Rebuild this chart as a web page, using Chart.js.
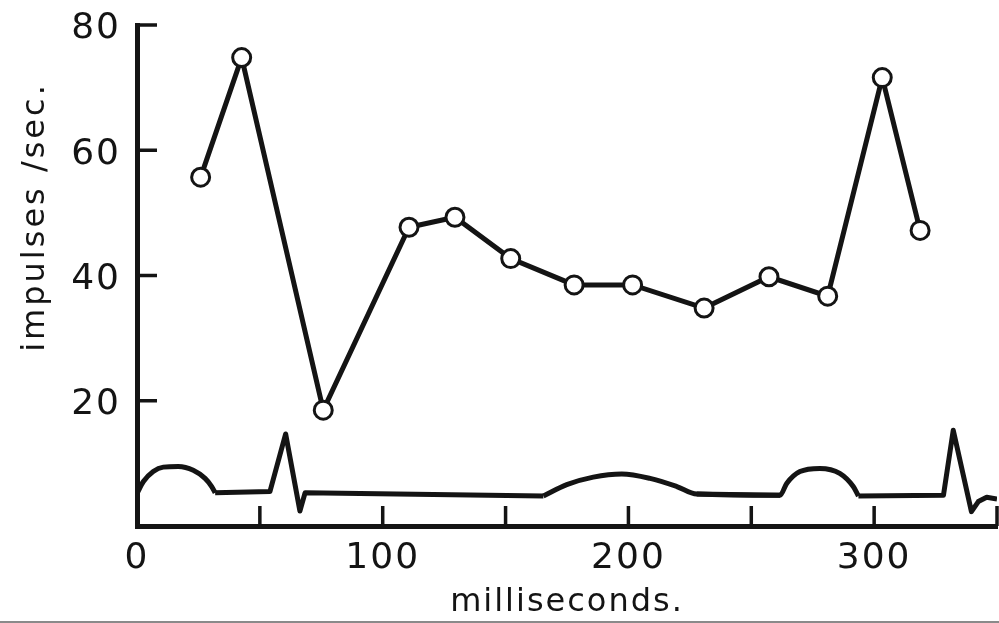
<!DOCTYPE html>
<html>
<head>
<meta charset="utf-8">
<script src="https://cdn.jsdelivr.net/npm/chart.js@4.4.1/dist/chart.umd.min.js"></script>
<style>
  html, body { margin: 0; padding: 0; background: #fff; }
  #wrap { position: relative; width: 999px; height: 623px; overflow: hidden; }
  #wrap .edge { position: absolute; left: 0; right: 0; bottom: 0; height: 2px; background: #8a8a8a; }
</style>
</head>
<body>
<div id="wrap">
  <canvas id="chart" width="999" height="623"></canvas>
  <div class="edge"></div>
</div>
<script>
// firing rate (impulses/sec)
const rateMs = [25.9, 42.6, 75.8, 110.7, 129.4, 152.1, 177.9, 201.7, 230.8, 257.2, 281.1, 303.3, 318.7];
const rateVal = [55.7, 74.8, 18.5, 47.7, 49.3, 42.7, 38.5, 38.5, 34.8, 39.8, 36.7, 71.6, 47.2];

// ECG trace drawn along the bottom (in the same y units)
const ecgMs = [0, 2.6, 6.6, 10.7, 16.8, 22.9, 27.7, 30.4, 31.8, 54.1, 60.5, 66.3, 68.4,
  165.4, 174.9, 185.7, 197.3, 208.8, 219.7, 227.8, 261.7,
  264.4, 269.8, 277.9, 286.0, 291.5, 293.6, 328.2,
  332.2, 339.6, 342.4, 345.8, 350];
const ecgVal = [5.2, 7.1, 8.7, 9.4, 9.5, 8.9, 7.6, 6.3, 5.3, 5.5, 14.7, 2.4, 5.3,
  4.8, 6.6, 7.8, 8.3, 7.6, 6.3, 5.1, 4.9,
  6.8, 8.7, 9.2, 8.4, 6.3, 4.8, 4.9,
  15.3, 2.3, 3.9, 4.6, 4.3];
// index ranges of the rounded waves (P, T, P) in the ECG arrays
const ecgWaves = [[0, 8], [13, 19], [20, 26]];

const yTicks = [20, 40, 60, 80];
const xLabels = [0, 100, 200, 300];

const ink = '#141414';
const FONT = 'DejaVu Sans';

const pts = (xs, ys) => xs.map((x, i) => ({ x: x, y: ys[i] }));
const inWave = i => ecgWaves.some(([a, b]) => i >= a && i <= b);
const insideWave = i => ecgWaves.some(([a, b]) => i > a && i < b);

const ecgRound = ecgMs.map((x, i) => ({ x: x, y: inWave(i) ? ecgVal[i] : null }));
const ecgSharp = ecgMs.map((x, i) => ({ x: x, y: insideWave(i) ? null : ecgVal[i] }));

// tick marks point inwards on this figure, so draw them ourselves
const innerTicks = {
  id: 'innerTicks',
  beforeDraw(chart) {
    chart.ctx.letterSpacing = '2px';
  },
  afterDraw(chart) {
    const { ctx, chartArea: a, scales: { x, y } } = chart;
    ctx.save();
    ctx.strokeStyle = ink;
    ctx.lineWidth = 3.5;
    ctx.beginPath();
    yTicks.forEach(v => {
      const py = y.getPixelForValue(v);
      ctx.moveTo(a.left, py);
      ctx.lineTo(a.left + 20, py);
    });
    x.ticks.forEach(t => {
      if (t.value === 0) return;
      const px = x.getPixelForValue(t.value);
      ctx.moveTo(px, a.bottom);
      ctx.lineTo(px, a.bottom - 20);
    });
    ctx.stroke();

    // vertical axis title
    ctx.fillStyle = ink;
    ctx.letterSpacing = '3px';
    ctx.font = '32px "' + FONT + '"';
    ctx.textAlign = 'center';
    ctx.textBaseline = 'middle';
    ctx.translate(36, a.top + 192);
    ctx.rotate(-Math.PI / 2);
    ctx.fillText('impulses /sec.', 0, 0);
    ctx.restore();
  }
};

const lineBase = {
  borderColor: ink,
  borderWidth: 5,
  borderJoinStyle: 'round',
  pointRadius: 0,
  spanGaps: false
};

new Chart(document.getElementById('chart'), {
  type: 'line',
  data: {
    datasets: [
      {
        label: 'rate',
        data: pts(rateMs, rateVal),
        borderColor: ink,
        borderWidth: 5,
        tension: 0,
        pointRadius: 9,
        pointBorderWidth: 3,
        pointBorderColor: ink,
        pointBackgroundColor: '#fff',
        pointHoverRadius: 9
      },
      Object.assign({ label: 'ecg waves', data: ecgRound, cubicInterpolationMode: 'monotone' }, lineBase),
      Object.assign({ label: 'ecg', data: ecgSharp, tension: 0 }, lineBase)
    ]
  },
  options: {
    responsive: false,
    animation: false,
    devicePixelRatio: 1,
    layout: { padding: 0, autoPadding: false },
    plugins: {
      legend: { display: false },
      tooltip: { enabled: false }
    },
    scales: {
      x: {
        type: 'linear',
        min: 0,
        max: 350,
        afterFit: s => { s.height = 97; s.paddingLeft = 0; s.paddingRight = 2; },
        grid: { display: false, drawTicks: false },
        border: { display: true, color: ink, width: 5 },
        ticks: {
          stepSize: 50,
          autoSkip: false,
          maxRotation: 0,
          padding: 11,
          color: ink,
          font: { family: FONT, size: 36 },
          callback: v => xLabels.includes(v) ? String(v) : ''
        },
        title: {
          display: true,
          text: 'milliseconds.',
          color: ink,
          font: { family: FONT, size: 32 },
          padding: { top: 0, bottom: 1 }
        }
      },
      y: {
        min: 0,
        max: 80,
        afterFit: s => { s.width = 137; s.paddingTop = 25; s.paddingBottom = 0; },
        grid: { display: false, drawTicks: false },
        border: { display: true, color: ink, width: 5 },
        ticks: {
          stepSize: 20,
          padding: 16,
          labelOffset: 4,
          color: ink,
          font: { family: FONT, size: 36 },
          callback: v => yTicks.includes(v) ? String(v) : ''
        }
      }
    }
  },
  plugins: [innerTicks]
});
</script>
</body>
</html>
